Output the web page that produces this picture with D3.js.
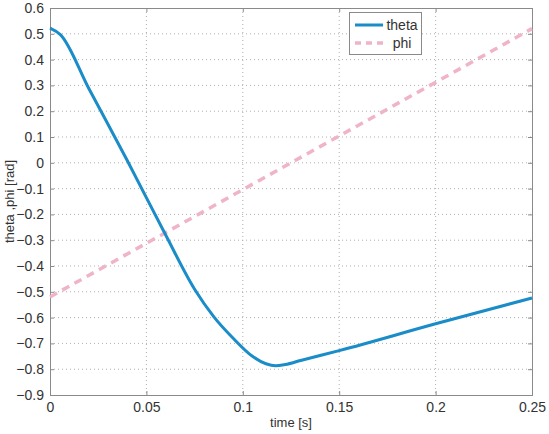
<!DOCTYPE html>
<html lang="en">
<head>
    <meta charset="UTF-8">
    <title>theta / phi</title>
    <script src="https://d3js.org/d3.v7.min.js"></script>
    <style>
        body { margin: 0; background: #fff; }
        text {
            font-family: 'Liberation Sans', Arial, sans-serif;
            fill: #333;
        }
    </style>
</head>
<body>
<script>
    const width  = 549;
    const height = 434;
    const margin = {left: 50, right: 17, top: 8, bottom: 39};

    // time [s] / angle [rad]
    const thetaTime  = [0, 0.0055, 0.02, 0.04, 0.06, 0.075, 0.085, 0.095, 0.105, 0.112, 0.117, 0.122, 0.13, 0.15, 0.2, 0.25];
    const thetaValue = [0.522, 0.496, 0.29, 0.01, -0.28, -0.49, -0.597, -0.68, -0.75, -0.779, -0.787, -0.782, -0.766, -0.728, -0.624, -0.524];
    const phiTime  = [0, 0.25];
    const phiValue = [-0.52, 0.52];

    const xTicks = [0, 0.05, 0.1, 0.15, 0.2, 0.25];
    const yTicks = [0.6, 0.5, 0.4, 0.3, 0.2, 0.1, 0, -0.1, -0.2, -0.3, -0.4, -0.5, -0.6, -0.7, -0.8, -0.9];

    const theta = thetaTime.map((t, i) => [t, thetaValue[i]]);
    const phi = phiTime.map((t, i) => [t, phiValue[i]]);

    const x = d3.scaleLinear().domain([0, 0.25]).range([margin.left, width - margin.right]);
    const y = d3.scaleLinear().domain([-0.9, 0.6]).range([height - margin.bottom, margin.top]);

    const svg = d3.select("body").append("svg").attr("width", width).attr("height", height);

    // grid
    svg.append("g").selectAll("line").data(xTicks.slice(1, -1)).enter().append("line")
        .attr("x1", d => x(d)).attr("x2", d => x(d))
        .attr("y1", y(0.6)).attr("y2", y(-0.9))
        .attr("stroke", "#b0b0b0").attr("stroke-dasharray", "1,3");
    svg.append("g").selectAll("line").data(yTicks.slice(1, -1)).enter().append("line")
        .attr("y1", d => y(d)).attr("y2", d => y(d))
        .attr("x1", x(0)).attr("x2", x(0.25))
        .attr("stroke", "#b0b0b0").attr("stroke-dasharray", "1,3");

    // axes (ticks inward, box on all sides)
    const fmt = d => d3.format("")(d);
    svg.append("g").attr("transform", "translate(0," + y(-0.9) + ")")
        .call(d3.axisBottom(x).tickValues(xTicks).tickSize(-4).tickPadding(7).tickFormat(fmt))
        .call(g => g.selectAll("text").style("font-size", "14px"));
    svg.append("g").attr("transform", "translate(" + x(0) + ",0)")
        .call(d3.axisLeft(y).tickValues(yTicks).tickSize(-4).tickPadding(6).tickFormat(fmt))
        .call(g => g.selectAll("text").style("font-size", "14px"));
    svg.append("g").attr("transform", "translate(0," + y(0.6) + ")")
        .call(d3.axisTop(x).tickValues(xTicks).tickSize(-4).tickFormat(""));
    svg.append("g").attr("transform", "translate(" + x(0.25) + ",0)")
        .call(d3.axisRight(y).tickValues(yTicks).tickSize(-4).tickFormat(""));
    svg.selectAll(".domain, .tick line").attr("stroke", "#8a8a8a");
    svg.selectAll(".tick text").style("fill", "#333");

    const line = d3.line().x(d => x(d[0])).y(d => y(d[1]));

    svg.append("path")
        .attr("d", line(phi))
        .attr("fill", "none")
        .attr("stroke", "#f0b4c8")
        .attr("stroke-width", 3.5)
        .attr("stroke-dasharray", "8,6");

    svg.append("path")
        .attr("d", line.curve(d3.curveMonotoneX)(theta))
        .attr("fill", "none")
        .attr("stroke", "#1a8cc8")
        .attr("stroke-width", 3);

    // labels
    svg.append("text").text("time [s]")
        .attr("x", x(0.125)).attr("y", 427)
        .attr("text-anchor", "middle").style("font-size", "13px");
    svg.append("text").text("theta ,phi [rad]")
        .attr("transform", "translate(14," + y(-0.15) + ") rotate(-90)")
        .attr("text-anchor", "middle").style("font-size", "13px");

    // legend
    const legend = svg.append("g");
    legend.append("rect")
        .attr("x", 349.5).attr("y", 12.5).attr("width", 72).attr("height", 42)
        .attr("fill", "#fff").attr("stroke", "#8a8a8a");
    const items = [
        {name: "theta", color: "#1a8cc8", dash: null, width: 3},
        {name: "phi", color: "#f0b4c8", dash: "6,5", width: 3.5}
    ];
    items.forEach((it, i) => {
        const ly = 25 + i * 18;
        legend.append("line")
            .attr("x1", 355).attr("x2", 383).attr("y1", ly).attr("y2", ly)
            .attr("stroke", it.color).attr("stroke-width", it.width)
            .attr("stroke-dasharray", it.dash);
        legend.append("text").text(it.name)
            .attr("x", 402).attr("y", ly + 5)
            .attr("text-anchor", "middle").style("font-size", "14px");
    });
</script>
</body>
</html>
